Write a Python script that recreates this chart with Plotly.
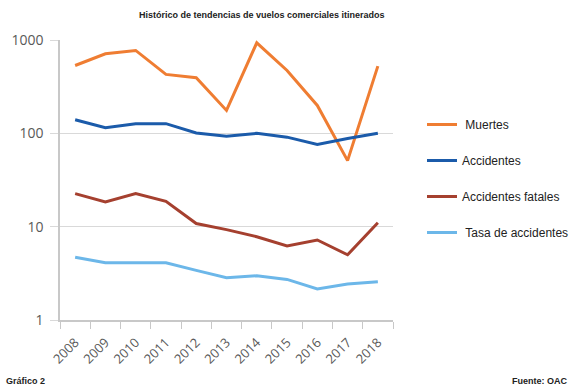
import plotly.graph_objects as go

years = ["2008", "2009", "2010", "2011", "2012", "2013", "2014", "2015", "2016", "2017", "2018"]
muertes = [533, 711, 773, 428, 395, 176, 933, 472, 199, 51, 525]
accidentes = [140, 115, 127, 127, 101, 93, 100, 91, 76, 88, 100]
accidentes_fatales = [22.6, 18.4, 22.6, 18.7, 10.8, 9.3, 7.8, 6.2, 7.2, 5.0, 11]
tasa = [4.7, 4.1, 4.1, 4.1, 3.4, 2.84, 2.98, 2.72, 2.15, 2.43, 2.57]

series = [
    ("\u00a0Muertes", muertes, "#EF7D32"),
    ("Accidentes", accidentes, "#1B5BAA"),
    ("Accidentes fatales", accidentes_fatales, "#A5402F"),
    ("\u00a0Tasa de accidentes", tasa, "#6CB7E9"),
]
y_ticks = [1, 10, 100, 1000]
y_ticktext = ["1", "10", "100", "1000"]

fig = go.Figure()
for i, (name, vals, color) in enumerate(series):
    fig.add_trace(go.Scatter(x=years, y=vals, name=name, mode="lines",
                             line=dict(color=color, width=3),
                             legendgroup=f"g{i}"))

fig.update_layout(
    width=570, height=387,
    margin=dict(l=60, r=177, t=40, b=67, autoexpand=False),
    paper_bgcolor="white", plot_bgcolor="white",
    font=dict(family="Liberation Sans, Arial, sans-serif", color="#222"),
    showlegend=True,
    legend=dict(xref="container", yref="container",
                x=422 / 570, xanchor="left", y=1 - 110 / 387, yanchor="top",
                font=dict(size=12, color="#222"),
                tracegroupgap=17, bgcolor="rgba(0,0,0,0)"),
    xaxis=dict(type="category", range=[-0.5, 10.5], showgrid=False, showline=True,
               linecolor="#c8c8c8", linewidth=1.5,
               ticks="outside", tickson="boundaries", ticklen=7,
               tickcolor="#c8c8c8", tickangle=-45, ticklabelstandoff=8,
               tickfont=dict(family="Open Sans, sans-serif", size=13, color="#595959")),
    yaxis=dict(type="log", range=[0, 3], tickvals=y_ticks, ticktext=y_ticktext,
               showgrid=True, gridcolor="#d9d9d9", gridwidth=1,
               showline=True, linecolor="#c8c8c8", linewidth=1.5,
               ticks="outside", ticklen=8, tickcolor="#d9d9d9",
               ticklabelstandoff=4, zeroline=False,
               tickfont=dict(family="Open Sans, sans-serif", size=14, color="#595959")),
    annotations=[
        dict(text="<b>Histórico de tendencias de vuelos comerciales itinerados</b>",
             xref="paper", yref="paper", x=(262 - 60) / 333, y=1 + 25 / 280,
             xanchor="center", yanchor="middle", showarrow=False,
             font=dict(size=9, color="#222")),
        dict(text="<b>Gráfico 2</b>", xref="paper", yref="paper",
             x=-56 / 333, y=-61 / 280, xanchor="left", yanchor="middle",
             showarrow=False, font=dict(size=9, color="#222")),
        dict(text="<b>Fuente: OAC</b>", xref="paper", yref="paper",
             x=(569 - 60) / 333, y=-61 / 280, xanchor="right", yanchor="middle",
             showarrow=False, font=dict(size=9, color="#222")),
    ],
)

fig.write_html("out.html")
